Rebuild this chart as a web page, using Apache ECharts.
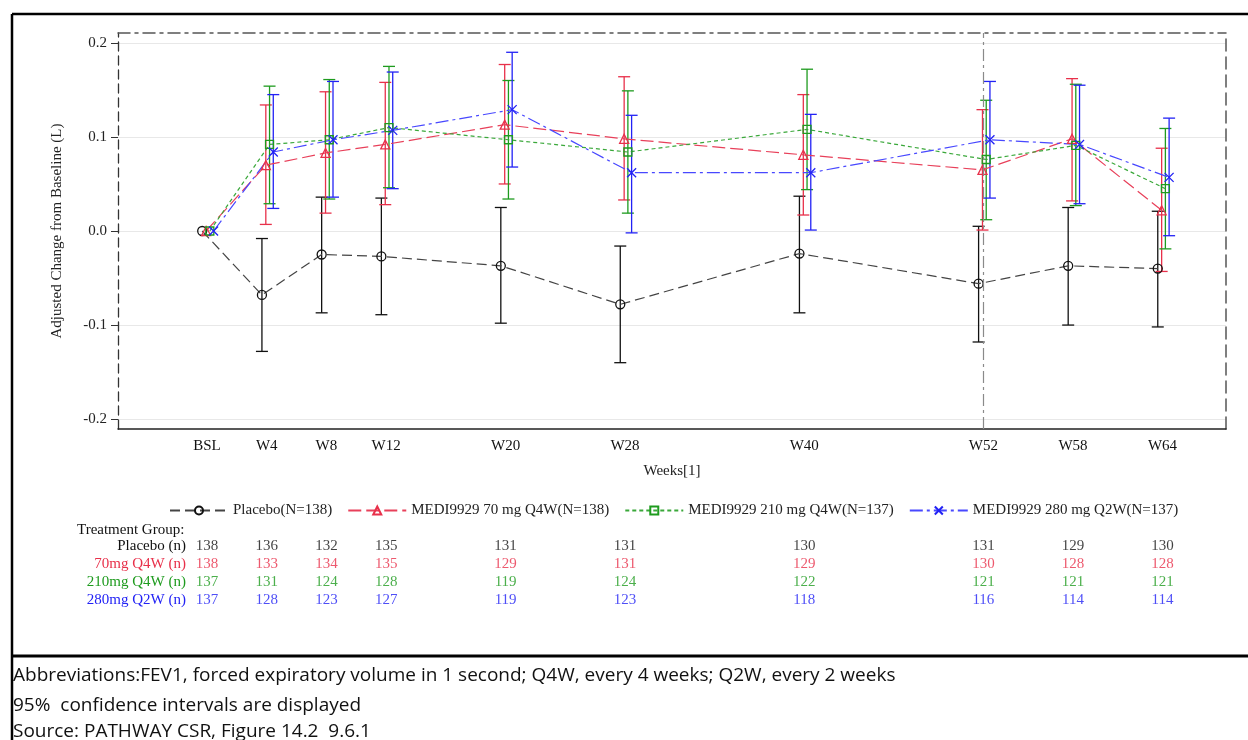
<!DOCTYPE html>
<html><head><meta charset="utf-8">
<script src="https://cdn.jsdelivr.net/npm/echarts@6/dist/echarts.min.js"></script>
<style>html,body{margin:0;padding:0;background:#fff}#c{width:1248px;height:740px}</style>
</head><body><div id="c"></div>
<script>
// ---------- data ----------
const weeks = [0, 4, 8, 12, 20, 28, 40, 52, 58, 64];
const weekLabels = ['BSL', 'W4', 'W8', 'W12', 'W20', 'W28', 'W40', 'W52', 'W58', 'W64'];
const yTicks = [-0.2, -0.1, 0, 0.1, 0.2];
const refWeek = 52;
const groupNames = ['Placebo(N=138)', 'MEDI9929 70 mg Q4W(N=138)', 'MEDI9929 210 mg Q4W(N=137)', 'MEDI9929 280 mg Q2W(N=137)'];
const rowNames = ['Placebo (n)', '70mg Q4W (n)', '210mg Q4W (n)', '280mg Q2W (n)'];

const placeboMean = [0, -0.068, -0.025, -0.027, -0.037, -0.078, -0.024, -0.056, -0.037, -0.040];
const placeboLow  = [null, -0.128, -0.087, -0.089, -0.098, -0.140, -0.087, -0.118, -0.100, -0.102];
const placeboHigh = [null, -0.008, 0.036, 0.035, 0.025, -0.016, 0.037, 0.005, 0.025, 0.021];

const q4w70Mean = [0, 0.070, 0.083, 0.092, 0.113, 0.098, 0.081, 0.065, 0.098, 0.022];
const q4w70Low  = [null, 0.007, 0.019, 0.028, 0.050, 0.033, 0.017, 0.001, 0.032, -0.043];
const q4w70High = [null, 0.134, 0.148, 0.158, 0.177, 0.164, 0.145, 0.129, 0.162, 0.088];

const q4w210Mean = [0, 0.092, 0.097, 0.110, 0.097, 0.084, 0.108, 0.076, 0.091, 0.045];
const q4w210Low  = [null, 0.029, 0.034, 0.046, 0.034, 0.019, 0.044, 0.012, 0.027, -0.019];
const q4w210High = [null, 0.154, 0.161, 0.175, 0.160, 0.149, 0.172, 0.139, 0.156, 0.109];

const q2w280Mean = [0, 0.084, 0.097, 0.107, 0.129, 0.062, 0.062, 0.097, 0.092, 0.057];
const q2w280Low  = [null, 0.024, 0.036, 0.045, 0.068, -0.002, 0.001, 0.035, 0.029, -0.005];
const q2w280High = [null, 0.145, 0.159, 0.169, 0.190, 0.123, 0.124, 0.159, 0.155, 0.120];

const nPlacebo = [138, 136, 132, 135, 131, 131, 130, 131, 129, 130];
const n70 = [138, 133, 134, 135, 129, 131, 129, 130, 128, 128];
const n210 = [137, 131, 124, 128, 119, 124, 122, 121, 121, 121];
const n280 = [137, 128, 123, 127, 119, 123, 118, 116, 114, 114];

// ---------- styling ----------
const means = [placeboMean, q4w70Mean, q4w210Mean, q2w280Mean];
const lows = [placeboLow, q4w70Low, q4w210Low, q2w280Low];
const highs = [placeboHigh, q4w70High, q4w210High, q2w280High];
const counts = [nPlacebo, n70, n210, n280];
const colors = ['#111111', '#E8304A', '#1E9B1E', '#2222F5'];
const lineColors = ['#444444', '#E8405A', '#3AA83A', '#4848FF'];
const dashes = [[10, 5], [13, 5], [4, 3], [13, 4, 3, 4]];
const symbols = ['circle', 'triangle', 'rect', 'path://M0,0L10,10M10,0L0,10'];
const symbolSizes = [9, 9, 8, 9];
const dodge = [-0.32, -0.06, 0.19, 0.44];
const SERIF = '"Liberation Serif", "Times New Roman", serif';
const FOOT = '19px "Open Sans", sans-serif';
const XMIN = -5.96, XMAX = 68.25, YMIN = -0.2105, YMAX = 0.2105;

const series = [];
for (let g = 0; g < 4; g++) {
  const c = colors[g];
  series.push({
    type: 'custom', name: groupNames[g] + ' CI', xAxisIndex: 0, yAxisIndex: 0, silent: true, z: 2,
    data: weeks.map((w, k) => lows[g][k] == null ? null : [w + dodge[g], lows[g][k], highs[g][k]]).filter(Boolean),
    encode: { x: 0, y: [1, 2] },
    renderItem: (params, api) => {
      const x = api.value(0);
      const a = api.coord([x, api.value(1)]);
      const b = api.coord([x, api.value(2)]);
      const hw = 6;
      const st = { stroke: c, lineWidth: 1.3, fill: null };
      return { type: 'group', children: [
        { type: 'line', shape: { x1: a[0], y1: a[1], x2: b[0], y2: b[1] }, style: st },
        { type: 'line', shape: { x1: a[0] - hw, y1: a[1], x2: a[0] + hw, y2: a[1] }, style: st },
        { type: 'line', shape: { x1: b[0] - hw, y1: b[1], x2: b[0] + hw, y2: b[1] }, style: st }
      ]};
    }
  });
}
for (let g = 0; g < 4; g++) {
  const s = {
    type: 'line', name: groupNames[g], xAxisIndex: 0, yAxisIndex: 0, z: 3,
    data: weeks.map((w, k) => [w + dodge[g], means[g][k]]),
    symbol: symbols[g], symbolSize: symbolSizes[g], showAllSymbol: true,
    lineStyle: { color: lineColors[g], width: 1.2, type: dashes[g] },
    itemStyle: { color: 'rgba(255,255,255,0)', borderColor: colors[g], borderWidth: 1.3 },
    emphasis: { disabled: true }, silent: true
  };
  if (g === 0) {
    s.markLine = { silent: true, symbol: 'none', label: { show: false },
      lineStyle: { color: '#8a8a8a', width: 1.2, type: [12, 4, 3, 4] },
      data: [{ xAxis: refWeek }] };
  }
  series.push(s);
}
for (let g = 0; g < 4; g++) {
  series.push({
    type: 'scatter', name: rowNames[g], xAxisIndex: 2, yAxisIndex: 2, silent: true,
    symbolSize: 0,
    data: weeks.map((w, k) => [w, rowNames[g], counts[g][k]]),
    label: { show: true, position: 'inside', formatter: p => String(p.value[2]),
      color: colors[g], fontFamily: SERIF, fontSize: 15 }
  });
}

const chart = echarts.init(document.getElementById('c'), null, { renderer: 'canvas' });
chart.setOption({
  animation: false,
  backgroundColor: '#fff',
  grid: [
    { left: 118, right: 22, top: 33, bottom: 311, outerBoundsMode: 'none', containLabel: false },
    { left: 118, right: 22, top: 537, height: 72, outerBoundsMode: 'none', containLabel: false }
  ],
  xAxis: [
    { type: 'value', gridIndex: 0, min: XMIN, max: XMAX, position: 'bottom',
      axisLine: { show: true, onZero: false, lineStyle: { color: '#222', width: 1.5 } },
      axisTick: { show: false },
      splitLine: { show: false },
      axisLabel: { customValues: weeks, formatter: v => weekLabels[weeks.indexOf(v)] || '',
        fontFamily: SERIF, fontSize: 15, color: '#111', margin: 10 },
      name: 'Weeks[1]', nameLocation: 'middle', nameGap: 35,
      nameTextStyle: { fontFamily: SERIF, fontSize: 15, color: '#222' } },
    { type: 'value', gridIndex: 0, min: XMIN, max: XMAX, position: 'top',
      axisLine: { show: true, onZero: false, lineStyle: { color: '#555', width: 1.5, type: [12, 5, 3, 5] } },
      axisTick: { show: false }, axisLabel: { show: false }, splitLine: { show: false } },
    { type: 'value', gridIndex: 1, min: XMIN, max: XMAX, show: false }
  ],
  yAxis: [
    { type: 'value', gridIndex: 0, min: YMIN, max: YMAX, position: 'left',
      axisLine: { show: true, onZero: false, lineStyle: { color: '#333', width: 1.3, type: [9, 5] } },
      axisTick: { show: true, length: 7, customValues: yTicks, lineStyle: { color: '#333' } },
      axisLabel: { customValues: yTicks, formatter: v => Math.abs(v) < 1e-9 ? '0.0' : v.toFixed(1),
        fontFamily: SERIF, fontSize: 15, color: '#222', margin: 11 },
      splitLine: { show: true, lineStyle: { color: '#e8e8e8', width: 1 } },
      name: 'Adjusted Change from Baseline (L)', nameLocation: 'middle', nameGap: 53,
      nameTextStyle: { fontFamily: SERIF, fontSize: 15, color: '#222' } },
    { type: 'value', gridIndex: 0, min: YMIN, max: YMAX, position: 'right',
      axisLine: { show: true, onZero: false, lineStyle: { color: '#555', width: 1.5, type: [12, 6] } },
      axisTick: { show: false }, axisLabel: { show: false }, splitLine: { show: false } },
    { type: 'category', gridIndex: 1, data: rowNames, inverse: true, offset: -76,
      axisLine: { show: false }, axisTick: { show: false }, splitLine: { show: false },
      axisLabel: { interval: 0, hideOverlap: false, margin: 8, fontFamily: SERIF, fontSize: 15,
        color: (v, i) => colors[rowNames.indexOf(v)] } }
  ],
  legend: {
    data: groupNames, left: 164, top: 498, itemWidth: 58, itemHeight: 10, itemGap: 15,
    selectedMode: false,
    textStyle: { fontFamily: SERIF, fontSize: 15, color: '#222' }
  },
  title: { text: 'Treatment Group:', left: 72, top: 518,
    textStyle: { fontFamily: SERIF, fontSize: 15, fontWeight: 'normal', color: '#111' } },
  graphic: [
    { type: 'line', shape: { x1: 12, y1: 14, x2: 1248, y2: 14 }, style: { stroke: '#000', lineWidth: 2.5 } },
    { type: 'line', shape: { x1: 12, y1: 14, x2: 12, y2: 740 }, style: { stroke: '#000', lineWidth: 2.5 } },
    { type: 'line', shape: { x1: 12, y1: 656, x2: 1248, y2: 656 }, style: { stroke: '#000', lineWidth: 3 } },
    { type: 'text', left: 13, top: 666, style: { text: 'Abbreviations:FEV1, forced expiratory volume in 1 second; Q4W, every 4 weeks; Q2W, every 2 weeks',
      font: FOOT, fill: '#111' } },
    { type: 'text', left: 13, top: 696, style: { text: '95%  confidence intervals are displayed',
      font: FOOT, fill: '#111' } },
    { type: 'text', left: 13, top: 722, style: { text: 'Source: PATHWAY CSR, Figure 14.2  9.6.1',
      font: FOOT, fill: '#111' } }
  ],
  series: series
});
</script>
</body></html>
